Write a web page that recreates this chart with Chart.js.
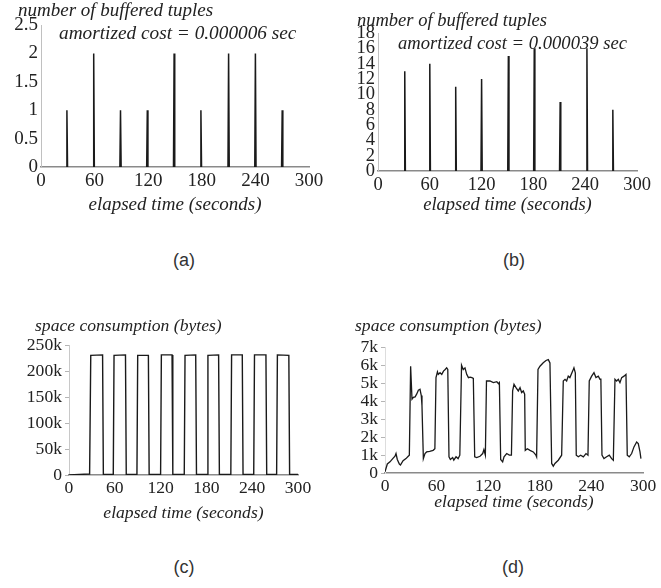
<!DOCTYPE html>
<html>
<head>
<meta charset="utf-8">
<script src="https://cdn.jsdelivr.net/npm/chart.js@4"></script>
<style>
  html, body { margin:0; padding:0; background:#fff; }
  body { width:661px; height:588px; position:relative; overflow:hidden; }
  .cv { position:absolute; }
  .t { position:absolute; white-space:nowrap; font-family:'Liberation Serif','Times New Roman',serif; font-style:italic; color:#222; line-height:20px; }
  .lab { position:absolute; white-space:nowrap; font-family:'Liberation Sans',Arial,sans-serif; color:#333; font-size:18px; line-height:20px; transform:translateX(-50%); }
</style>
</head>
<body>
<canvas id="ca" class="cv" width="330" height="220" style="left:0;top:0"></canvas>
<canvas id="cb" class="cv" width="331" height="220" style="left:330px;top:0"></canvas>
<canvas id="cc" class="cv" width="330" height="230" style="left:0;top:300px"></canvas>
<canvas id="cd" class="cv" width="331" height="230" style="left:330px;top:300px"></canvas>

<div class="t" style="left:18px;top:0px;font-size:19px">number of buffered tuples</div>
<div class="t" style="left:59px;top:23px;font-size:19.3px">amortized cost = 0.000006 sec</div>
<div class="t" style="left:357px;top:10px;font-size:18.5px">number of buffered tuples</div>
<div class="t" style="left:398px;top:33px;font-size:18.6px">amortized cost = 0.000039 sec</div>
<div class="t" style="left:35px;top:315px;font-size:17.6px">space consumption (bytes)</div>
<div class="t" style="left:355px;top:315px;font-size:17.6px">space consumption (bytes)</div>

<div class="lab" style="left:184px;top:250px">(a)</div>
<div class="lab" style="left:514px;top:250px">(b)</div>
<div class="lab" style="left:184px;top:557px">(c)</div>
<div class="lab" style="left:513px;top:557px">(d)</div>

<script>
// ---------- data ----------
const xTicks = [0, 60, 120, 180, 240, 300];
const xTickLabels = ['0', '60', '120', '180', '240', '300'];

// (a) buffered tuples, amortized cost 0.000006 sec
const spikeTimesA = [29, 59, 89, 119, 149, 179, 210, 240, 270];
const spikeValuesA = [1, 2, 1, 1, 2, 1, 2, 2, 1];
const yTicksA = [0, 0.5, 1, 1.5, 2, 2.5];
const yTickLabelsA = ['0', '0.5', '1', '1.5', '2', '2.5'];

// (b) buffered tuples, amortized cost 0.000039 sec
const spikeTimesB = [31, 60, 90, 120, 151, 181, 211, 242, 272];
const spikeValuesB = [13, 14, 11, 12, 15, 16, 9, 16, 8];
const yTicksB = [0, 2, 4, 6, 8, 10, 12, 14, 16, 18];
const yTickLabelsB = ['0', '2', '4', '6', '8', '10', '12', '14', '16', '18'];

// (c) space consumption (bytes)
const timesC = [0, 27, 28.5, 44, 45, 58, 59, 74, 75, 89, 90, 104, 105, 120, 121, 135, 136, 151, 152, 166, 167, 181, 182, 196, 197, 212, 213, 227, 228, 242, 243, 258, 259, 272, 273, 288, 289, 300];
const spaceC = [0, 2000, 230000, 231000, 1000, 1000, 230000, 231000, 1000, 1000, 230000, 230000, 1000, 1000, 231000, 231000, 1000, 1000, 230000, 231000, 1000, 1000, 230000, 231000, 1000, 1000, 231000, 231000, 1000, 1000, 231000, 231000, 1000, 1000, 231000, 230000, 1000, 1000];
const yTicksC = [0, 50000, 100000, 150000, 200000, 250000];
const yTickLabelsC = ['0', '50k', '100k', '150k', '200k', '250k'];

// (d) space consumption (bytes)
const timesD = [0, 2.7, 5.8, 9, 11.6, 12.8, 14.3, 16.7, 18, 21, 24.4, 27, 28.3, 29.8, 31.4, 33, 35, 36.8, 38.8, 40.7, 42.2, 43, 44.6, 46.5, 48.4, 52, 56, 58, 59.3, 61, 62, 64, 66, 68, 70, 71.7, 73, 74.4, 76, 78.7, 80, 82.6, 85, 87, 89, 91, 93, 95, 97, 99, 101, 102.7, 104.3, 106.6, 110.5, 113.6, 115, 116.7, 118, 122, 126, 130, 132, 133, 134.5, 136.8, 138.4, 141.5, 144.6, 147, 148.4, 150, 152.3, 155, 157, 158.9, 160.8, 162.4, 163.1, 165.5, 168.6, 172.4, 175.5, 176.3, 177.9, 180.2, 184, 187.2, 189.9, 191.8, 193.8, 195.7, 197.6, 201.5, 205.4, 207.3, 209.3, 211.2, 213.1, 215, 218.2, 219.7, 221.3, 222.4, 224.8, 227.5, 230.6, 233.7, 236, 237.5, 240.3, 243, 245.3, 248, 250, 251, 252.3, 254.6, 257.7, 260.8, 263.5, 265.5, 267.4, 269.3, 271.3, 273.2, 275.2, 277.9, 280.2, 281.7, 284, 286.8, 289.5, 292.6, 294.5, 296.5, 297.6];
const spaceD = [70, 500, 620, 800, 930, 1080, 750, 500, 440, 680, 800, 930, 990, 5930, 4100, 4200, 4230, 4380, 4600, 4650, 4300, 3740, 800, 1080, 1170, 1200, 1260, 1350, 5300, 5620, 5480, 5570, 5480, 5660, 5750, 5840, 5750, 900, 750, 860, 710, 900, 800, 990, 5990, 5750, 5840, 5480, 5300, 5330, 5300, 5260, 900, 860, 930, 1080, 1300, 990, 5110, 5110, 5020, 5070, 4960, 5020, 750, 620, 900, 1080, 990, 990, 4560, 4930, 4740, 4560, 4740, 4470, 4560, 4380, 1260, 1350, 1260, 1170, 990, 900, 5750, 5930, 6120, 6250, 6300, 6120, 530, 380, 530, 710, 990, 5110, 5200, 5110, 5380, 5300, 5660, 5840, 5570, 990, 900, 990, 900, 1080, 990, 5110, 5380, 5570, 5300, 5380, 5200, 5250, 990, 800, 900, 990, 800, 710, 5200, 5110, 5200, 5020, 5300, 5380, 5480, 990, 900, 1080, 1450, 1720, 1630, 1170, 800];
const yTicksD = [0, 1000, 2000, 3000, 4000, 5000, 6000, 7000];
const yTickLabelsD = ['0', '1k', '2k', '3k', '4k', '5k', '6k', '7k'];

// ---------- helpers ----------
const SERIF = "'Liberation Serif','Times New Roman',serif";

function spikePoints(times, values) {
  const pts = [];
  times.forEach((t, i) => {
    pts.push({x: t - 0.7, y: 0}, {x: t, y: values[i]}, {x: t + 0.7, y: 0}, {x: t + 1, y: null});
  });
  return pts;
}
function seriesPoints(times, values) {
  return times.map((t, i) => ({x: t, y: values[i]}));
}

function makeChart(id, o) {
  const fontT = {family: SERIF, size: o.font};
  new Chart(document.getElementById(id), {
    type: 'line',
    data: { datasets: [{
      data: o.points,
      borderColor: '#1a1a1a',
      borderWidth: o.lineWidth,
      pointRadius: 0,
      tension: 0,
      fill: false,
      spanGaps: false
    }]},
    options: {
      responsive: false,
      animation: false,
      events: [],
      layout: { padding: o.pad },
      plugins: { legend: {display: false}, tooltip: {enabled: false}, title: {display: false} },
      scales: {
        x: {
          type: 'linear', min: 0, max: 300,
          afterBuildTicks: s => { s.ticks = xTicks.map(v => ({value: v})); },
          afterFit: s => { s.height = o.xh; },
          ticks: { autoSkip: false, maxRotation: 0, padding: o.xpad, color: '#222', font: fontT,
                   callback: (v, i) => xTickLabels[i] },
          grid: { display: true, drawOnChartArea: false, drawTicks: false, color: 'rgba(0,0,0,0)' },
          border: { display: true, color: '#8a8a8a', width: 1.5 },
          title: { display: true, text: 'elapsed time (seconds)', color: '#222',
                   font: {family: SERIF, size: o.font, style: 'italic'},
                   padding: {top: 0, bottom: o.tpad} }
        },
        y: {
          type: 'linear', min: o.yTicks[0], max: o.yTicks[o.yTicks.length - 1],
          afterBuildTicks: s => { s.ticks = o.yTicks.map(v => ({value: v})); },
          afterFit: s => { s.width = o.yw; },
          ticks: { autoSkip: false, padding: o.ypad, color: '#222', font: fontT,
                   callback: (v, i) => o.yLabels[i] },
          grid: { display: true, drawOnChartArea: false, drawTicks: o.yTickMarks, tickLength: 4, color: '#b5b5b5' },
          border: { display: true, color: o.yBorder, width: 1 }
        }
      }
    }
  });
}

makeChart('ca', {
  points: spikePoints(spikeTimesA, spikeValuesA), lineWidth: 1.5,
  yTicks: yTicksA, yLabels: yTickLabelsA, font: 19,
  pad: {left: 0, top: 25, right: 21, bottom: 0}, yw: 41, xh: 53,
  xpad: 3, ypad: 3, tpad: 4, yTickMarks: false, yBorder: '#c0c0c0'
});
makeChart('cb', {
  points: spikePoints(spikeTimesB, spikeValuesB), lineWidth: 1.5,
  yTicks: yTicksB, yLabels: yTickLabelsB, font: 18.5,
  pad: {left: 0, top: 33, right: 24, bottom: 0}, yw: 48, xh: 49,
  xpad: 3, ypad: 3, tpad: 4, yTickMarks: false, yBorder: '#c0c0c0'
});
makeChart('cc', {
  points: seriesPoints(timesC, spaceC), lineWidth: 1.4,
  yTicks: yTicksC, yLabels: yTickLabelsC, font: 17.6,
  pad: {left: 0, top: 45, right: 32, bottom: 0}, yw: 69, xh: 55,
  xpad: 3, ypad: 3, tpad: 6, yTickMarks: true, yBorder: '#c8c8c8'
});
makeChart('cd', {
  points: seriesPoints(timesD, spaceD), lineWidth: 1.3,
  yTicks: yTicksD, yLabels: yTickLabelsD, font: 17.5,
  pad: {left: 0, top: 47, right: 18, bottom: 0}, yw: 55, xh: 57,
  xpad: 3, ypad: 3, tpad: 17, yTickMarks: true, yBorder: '#dddddd'
});
</script>
</body>
</html>
